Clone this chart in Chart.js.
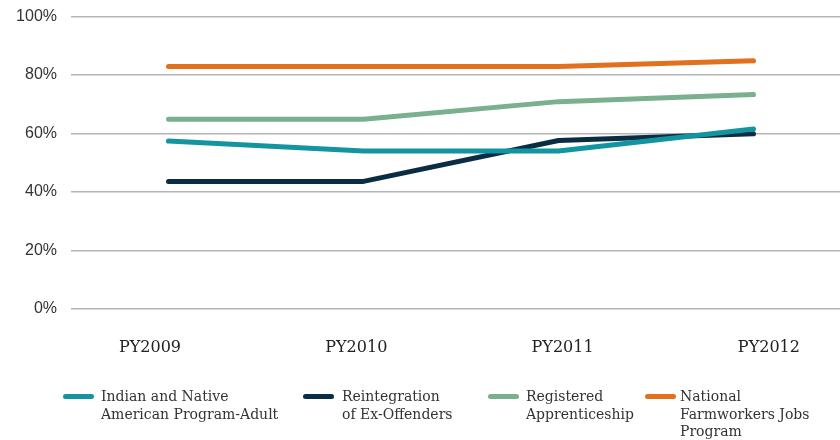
<!DOCTYPE html>
<html>
<head>
<meta charset="utf-8">
<script src="https://cdn.jsdelivr.net/npm/chart.js@4.4.1/dist/chart.umd.min.js"></script>
<style>
  html, body { margin: 0; padding: 0; background: #fff; overflow: hidden; }
  #wrap { position: relative; width: 840px; height: 440px; overflow: hidden; }
  #chartBox { position: absolute; left: 0; top: -7px; width: 851px; height: 407px; }
  .legend-item { position: absolute; top: 388px; font-family: "DejaVu Serif", serif; font-size: 14px; line-height: 17.5px; color: #333; }
  .legend-item .sw { position: absolute; top: 6px; height: 5px; width: 31px; border-radius: 3px; }
  .legend-item .txt { position: absolute; top: 0; white-space: nowrap; }
</style>
</head>
<body>
<div id="wrap">
  <div id="chartBox"><canvas id="lineChart"></canvas></div>
  <div id="legend"></div>
</div>
<script>
// ================================
// DATA
// ================================
const years = ["PY2009", "PY2010", "PY2011", "PY2012"];
const yTicks = [0, 20, 40, 60, 80, 100];

const indianNative = [57.4, 54.0, 54.0, 61.5];
const reintegration = [43.6, 43.6, 57.6, 59.9];
const apprenticeship = [64.9, 64.9, 70.9, 73.3];
const farmworkers = [82.9, 82.9, 82.9, 84.9];

const seriesNames = [
  ["Indian and Native", "American Program-Adult"],
  ["Reintegration", "of Ex-Offenders"],
  ["Registered", "Apprenticeship"],
  ["National", "Farmworkers Jobs", "Program"]
];
const seriesColors = ["#1394a1", "#0a2d44", "#7ab08e", "#e1711f"];

// ================================
// LEGEND (HTML, multi-line labels)
// ================================
const legendSpots = [[63, 101], [303, 342], [488, 526], [645, 680]];
const legendEl = document.getElementById("legend");
seriesNames.forEach((lines, i) => {
  const [swX, txtX] = legendSpots[i];
  const item = document.createElement("div");
  item.className = "legend-item";
  item.style.left = "0px";
  item.innerHTML = `
    <div class="sw" style="left:${swX}px;background:${seriesColors[i]}"></div>
    <div class="txt" style="left:${txtX}px">${lines.join("<br>")}</div>`;
  legendEl.appendChild(item);
});

// ================================
// CHART
// ================================
const allSeries = [indianNative, reintegration, apprenticeship, farmworkers];

const datasets = allSeries.map((values, i) => ({
  label: seriesNames[i].join(" "),
  data: values,
  borderColor: seriesColors[i],
  backgroundColor: seriesColors[i],
  borderWidth: 5,
  borderCapStyle: "round",
  borderJoinStyle: "round",
  pointRadius: 0,
  tension: 0,
  fill: false,
  xAxisID: "x"
}));

new Chart(document.getElementById("lineChart"), {
  type: "line",
  data: { labels: years, datasets },
  options: {
    responsive: true,
    maintainAspectRatio: false,
    animation: false,
    layout: { padding: { top: 0, right: 0, bottom: 14, left: 0 } },
    plugins: {
      legend: { display: false },
      tooltip: { enabled: false }
    },
    scales: {
      x: {
        type: "category",
        offset: true,
        display: false
      },
      xLabels: {
        type: "linear",
        position: "bottom",
        min: -0.383,
        max: 3.398,
        afterBuildTicks: (scale) => {
          scale.ticks = years.map((_, i) => ({ value: i }));
        },
        grid: { display: false, drawTicks: false },
        border: { display: false },
        ticks: {
          autoSkip: false,
          maxRotation: 0,
          padding: 29,
          color: "#222",
          font: { family: "DejaVu Serif", size: 16 },
          callback: (v) => years[v]
        }
      },
      y: {
        min: 0,
        max: 100,
        afterBuildTicks: (scale) => {
          scale.ticks = yTicks.map(v => ({ value: v }));
        },
        afterFit: (scale) => { scale.width = 71; },
        grid: { color: "#b5b5b5", lineWidth: 1.5, drawTicks: false },
        border: { display: false },
        ticks: {
          padding: 14,
          color: "#333",
          font: { family: "Liberation Sans", size: 16 },
          callback: (v) => v + "%"
        }
      }
    }
  }
});
</script>
</body>
</html>
